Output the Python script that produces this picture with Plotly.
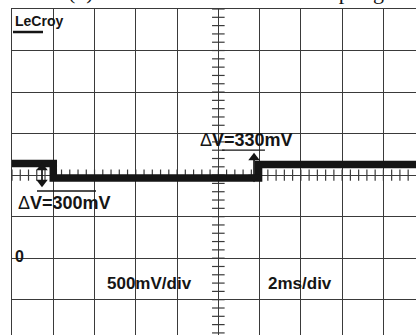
import numpy as np
import plotly.graph_objects as go

# ---- data (oscilloscope capture, time in ms, voltage in V) ----
time_ms = [0.0, 2.0, 11.95, 19.6]
voltage_v = [1.14, 0.965, 1.128, 1.128]

volts_per_div = 0.5
ms_per_div = 2.0
x_range = [0.0, 19.58]
y_range = [-0.925, 3.0]

delta_labels = ["\u0394<b>V=300mV</b>", "\u0394<b>V=330mV</b>"]
scale_labels = ["<b>500mV/div</b>", "<b>2ms/div</b>"]
title_text = "(d) Case with no inductive coupling."

# measurement arrows: (time, top V, bottom V)
arrow_x = [1.454, 11.73]
arrow_top = [1.146, 1.266]
arrow_bot = [0.857, 0.917]

grid_col = "#3a3a3a"
ink = "#151515"

fig = go.Figure()

# center-axis minor ticks (graticule decoration, 5 per division)
yt = np.arange(-0.9, 3.0001, volts_per_div / 5)
xt = np.arange(0.0, 19.6, ms_per_div / 5)
fig.add_trace(go.Scatter(x=[10.0] * len(yt), y=yt, mode="markers",
                         marker=dict(symbol="line-ew", size=9,
                                     line=dict(color=grid_col, width=1.2)),
                         hoverinfo="skip", showlegend=False))
fig.add_trace(go.Scatter(x=xt, y=[1.0] * len(xt), mode="markers",
                         marker=dict(symbol="line-ns", size=8,
                                     line=dict(color=grid_col, width=1.2)),
                         hoverinfo="skip", showlegend=False))

# signal trace
fig.add_trace(go.Scatter(x=time_ms, y=voltage_v, mode="lines",
                         line=dict(shape="hv", color=ink, width=7.5),
                         showlegend=False))

# double-headed measurement arrows
head_off = 0.058  # half-head offset in volts
for xa, yt_, yb_ in zip(arrow_x, arrow_top, arrow_bot):
    fig.add_trace(go.Scatter(x=[xa, xa], y=[yt_ - 0.03, yb_ + 0.03], mode="lines",
                             line=dict(color=ink, width=1.7),
                             hoverinfo="skip", showlegend=False))
    fig.add_trace(go.Scatter(x=[xa, xa], y=[yt_ - head_off, yb_ + head_off],
                             mode="markers",
                             marker=dict(symbol=["triangle-up", "triangle-down"],
                                         size=10, color=ink, line=dict(width=0)),
                             hoverinfo="skip", showlegend=False))

annotations = []
annotations.append(dict(x=2.545, y=0.664, text=delta_labels[0], showarrow=False,
                        font=dict(family="Liberation Sans, Arial", size=18, color=ink)))
annotations.append(dict(x=11.37, y=1.423, text=delta_labels[1], showarrow=False,
                        font=dict(family="Liberation Sans, Arial", size=18, color=ink)))
annotations.append(dict(x=6.64, y=-0.305, text=scale_labels[0], showarrow=False,
                        font=dict(family="Liberation Sans, Arial", size=17, color=ink)))
annotations.append(dict(x=13.94, y=-0.305, text=scale_labels[1], showarrow=False,
                        font=dict(family="Liberation Sans, Arial", size=17, color=ink)))
annotations.append(dict(x=0.34, y=0.02, text="<b>0</b>", showarrow=False,
                        font=dict(family="Liberation Sans, Arial", size=16, color=ink)))
# logo
annotations.append(dict(x=0.0025, y=0.962, xref="paper", yref="paper",
                        xanchor="left", yanchor="middle", text="<b>LeCroy</b>",
                        showarrow=False,
                        font=dict(family="Liberation Sans, Arial", size=14, color=ink)))
# title (partially cut at the top, as in the source)
annotations.append(dict(x=0.535, y=1.008, xref="paper", yref="paper",
                        xanchor="center", yanchor="bottom", text=title_text,
                        showarrow=False,
                        font=dict(family="Liberation Serif, Times New Roman", size=22,
                                  color=ink)))

shapes = [
    dict(type="line", xref="x", yref="y", x0=1.21, x1=4.07, y0=0.809, y1=0.809,
         line=dict(color=ink, width=1.3)),
    dict(type="line", xref="x", yref="y", x0=10.18, x1=12.26, y0=1.302, y1=1.302,
         line=dict(color=ink, width=1.3)),
    dict(type="line", xref="paper", yref="paper", x0=0.0025, x1=0.0767,
         y0=0.9294, y1=0.9294, line=dict(color=ink, width=2.5)),
]

fig.update_layout(
    width=416, height=335,
    margin=dict(l=12, r=0, t=9, b=0, pad=0),
    paper_bgcolor="white", plot_bgcolor="white",
    annotations=annotations, shapes=shapes,
    xaxis=dict(range=x_range, dtick=ms_per_div, tick0=0, side="top",
               showgrid=True, gridcolor=grid_col, gridwidth=1.2,
               showline=True, linecolor=grid_col, linewidth=1.4,
               zeroline=False, showticklabels=False, ticks=""),
    yaxis=dict(range=y_range, dtick=volts_per_div, tick0=0,
               showgrid=True, gridcolor=grid_col, gridwidth=1.2,
               showline=True, linecolor=grid_col, linewidth=1.4,
               zeroline=False, showticklabels=False, ticks=""),
)

fig.write_html("out.html")
